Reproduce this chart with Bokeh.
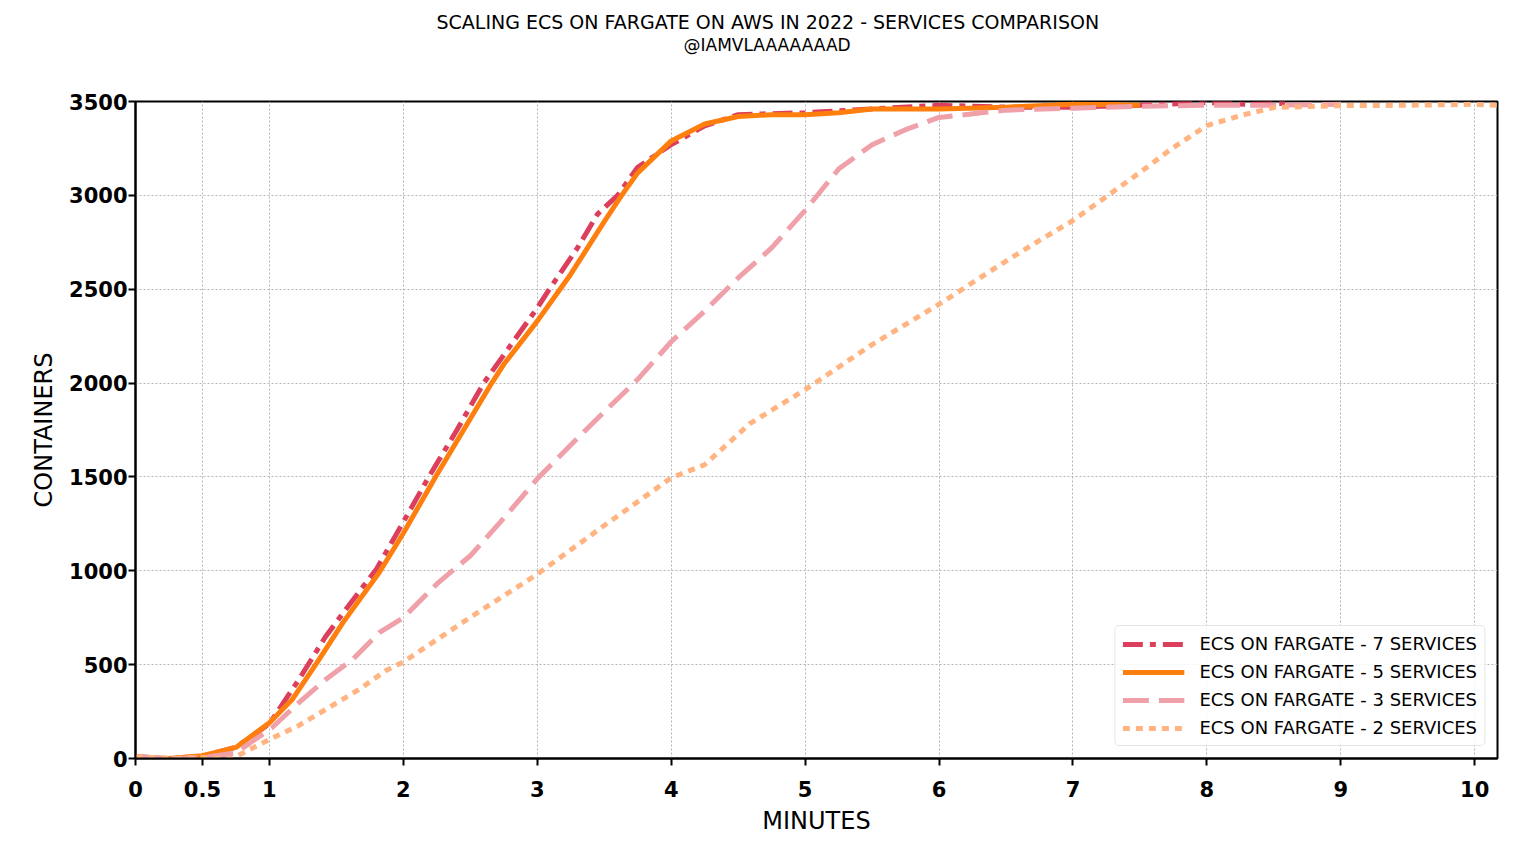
from bokeh.plotting import figure
from bokeh.models import Range1d, FixedTicker, Title
from bokeh.embed import file_html
from bokeh.resources import INLINE

# ---------------- data ----------------
t7 = [0, 0.25, 0.5, 0.75, 1.0, 1.22, 1.42, 1.57, 1.8, 2.0, 2.19, 2.4, 2.6, 2.8, 3.0, 3.09,
      3.3, 3.45, 3.6, 3.75, 4.0, 4.25, 4.5, 5.0, 5.5, 6.0, 6.5, 7.0, 7.5, 8.0, 8.3, 8.6]
c7 = [10, 0, 12, 60, 185, 421, 650, 794, 1010, 1260, 1500, 1750, 2000, 2200, 2400, 2500,
      2720, 2900, 3000, 3150, 3270, 3370, 3430, 3440, 3460, 3480, 3470, 3470, 3480, 3495, 3485, 3490]

t5 = [0, 0.25, 0.5, 0.75, 1.0, 1.17, 1.37, 1.55, 1.82, 2.0, 2.24, 2.5, 2.66, 2.75, 3.0, 3.17,
      3.25, 3.5, 3.63, 3.75, 4.0, 4.25, 4.5, 4.75, 5.0, 5.25, 5.5, 6.0, 6.5, 7.0, 7.24, 7.5]
c5 = [10, 0, 15, 59, 190, 314, 527, 725, 991, 1200, 1500, 1810, 2000, 2100, 2330, 2500,
      2580, 2860, 3000, 3120, 3290, 3380, 3420, 3430, 3430, 3440, 3460, 3460, 3470, 3485, 3484, 3480]

t3 = [0, 0.25, 0.5, 0.75, 1.02, 1.22, 1.42, 1.62, 1.82, 2.0, 2.25, 2.5, 2.75, 3.0, 3.25, 3.4,
      3.75, 4.0, 4.25, 4.5, 4.75, 5.0, 5.25, 5.5, 5.75, 6.0, 6.5, 7.0, 7.5, 8.0, 8.5, 9.0]
c3 = [10, 0, 5, 30, 165, 298, 421, 527, 671, 750, 930, 1080, 1280, 1490, 1670, 1777,
      2020, 2220, 2384, 2560, 2720, 2920, 3140, 3270, 3350, 3415, 3454, 3464, 3475, 3480, 3480, 3485]

t2 = [0, 0.25, 0.5, 0.72, 1.0, 1.22, 1.42, 1.67, 1.87, 2.0, 2.5, 3.0, 3.5, 4.0, 4.25, 4.59,
      5.0, 5.5, 6.0, 6.5, 6.75, 7.0, 7.5, 7.75, 8.0, 8.25, 8.5, 9.0, 9.5, 10.0, 10.17]
c2 = [10, 0, 5, 0, 101, 176, 261, 368, 469, 514, 752, 982, 1241, 1495, 1565, 1785,
      1965, 2205, 2420, 2650, 2760, 2866, 3122, 3255, 3372, 3425, 3468, 3478, 3480, 3485, 3480]

series_labels = ["ECS ON FARGATE - 7 SERVICES", "ECS ON FARGATE - 5 SERVICES",
                 "ECS ON FARGATE - 3 SERVICES", "ECS ON FARGATE - 2 SERVICES"]

x_ticks = [0, 0.5, 1, 2, 3, 4, 5, 6, 7, 8, 9, 10]
x_tick_labels = ["0", "0.5", "1", "2", "3", "4", "5", "6", "7", "8", "9", "10"]
y_ticks = [0, 500, 1000, 1500, 2000, 2500, 3000, 3500]

title_text = "SCALING ECS ON FARGATE ON AWS IN 2022 - SERVICES COMPARISON"
subtitle_text = "@IAMVLAAAAAAAD"
x_label = "MINUTES"
y_label = "CONTAINERS"

FONT = "DejaVu Sans"

# ---------------- figure ----------------
p = figure(width=1520, height=848, output_backend="svg", toolbar_location=None,
           x_range=Range1d(0, 10.17), y_range=Range1d(0, 3500),
           min_border_left=135, min_border_right=23, min_border_top=101, min_border_bottom=90)

p.background_fill_color = "white"
p.border_fill_color = "white"
p.outline_line_color = "black"
p.outline_line_width = 2
p.outline_line_alpha = 1

p.xaxis.ticker = FixedTicker(ticks=x_ticks)
p.xaxis.major_label_overrides = {t: l for t, l in zip(x_ticks, x_tick_labels)}
p.yaxis.ticker = FixedTicker(ticks=y_ticks)
p.xgrid.ticker = FixedTicker(ticks=x_ticks)
p.ygrid.ticker = FixedTicker(ticks=y_ticks)

for ax in (p.xaxis, p.yaxis):
    ax.axis_line_color = "black"
    ax.axis_line_width = 2
    ax.major_tick_line_color = "black"
    ax.major_tick_line_width = 2
    ax.major_tick_out = 7
    ax.major_tick_in = 0
    ax.minor_tick_line_color = None
    ax.major_label_text_font = FONT
    ax.major_label_text_font_size = "21px"
    ax.major_label_text_font_style = "bold"
    ax.major_label_text_color = "black"
    ax.axis_label_text_font = FONT
    ax.axis_label_text_font_size = "24px"
    ax.axis_label_text_font_style = "normal"
    ax.axis_label_text_color = "black"

p.xaxis.axis_label = x_label
p.yaxis.axis_label = y_label
p.xaxis.major_label_standoff = 15
p.yaxis.major_label_standoff = 1
p.xaxis.axis_label_standoff = 7
p.yaxis.axis_label_standoff = 8

p.grid.grid_line_color = "#b5b5b5"
p.grid.grid_line_dash = "2 2"
p.grid.grid_line_width = 1

# ---------------- lines ----------------
p.line(t7, c7, line_color="#DC3F5C", line_width=5, line_dash="20 7 6 7", legend_label=series_labels[0])
p.line(t5, c5, line_color="#FF7F0E", line_width=5, legend_label=series_labels[1])
p.line(t3, c3, line_color="#F0A0A8", line_width=5, line_dash="26 10", legend_label=series_labels[2])
p.line(t2, c2, line_color="#FFB482", line_width=5, line_dash="7 6", legend_label=series_labels[3])

lg = p.legend[0]
lg.location = "bottom_right"
lg.margin = 12
lg.padding = 7
lg.spacing = 7
lg.glyph_width = 62
lg.glyph_height = 20
lg.label_height = 20
lg.label_standoff = 15
lg.label_text_font = FONT
lg.label_text_font_size = "18px"
lg.label_text_color = "black"
lg.border_line_color = "#cccccc"
lg.border_line_width = 1
lg.border_radius = 5
lg.background_fill_color = "white"
lg.background_fill_alpha = 0.85

# ---------------- title block (spacer nearest the plot, then subtitle, then title) ----------------
p.add_layout(Title(text=" ", align="left", standoff=34, text_font=FONT,
                   text_font_size="10px"), "above")
p.add_layout(Title(text=subtitle_text, align="left", offset=548, standoff=0,
                   text_font=FONT, text_font_size="17px", text_font_style="normal",
                   text_color="black"), "above")
p.add_layout(Title(text=title_text, align="left", offset=301, standoff=0,
                   text_font=FONT, text_font_size="19px", text_font_style="normal",
                   text_color="black"), "above")

open("out.html", "w").write(file_html(p, INLINE))
